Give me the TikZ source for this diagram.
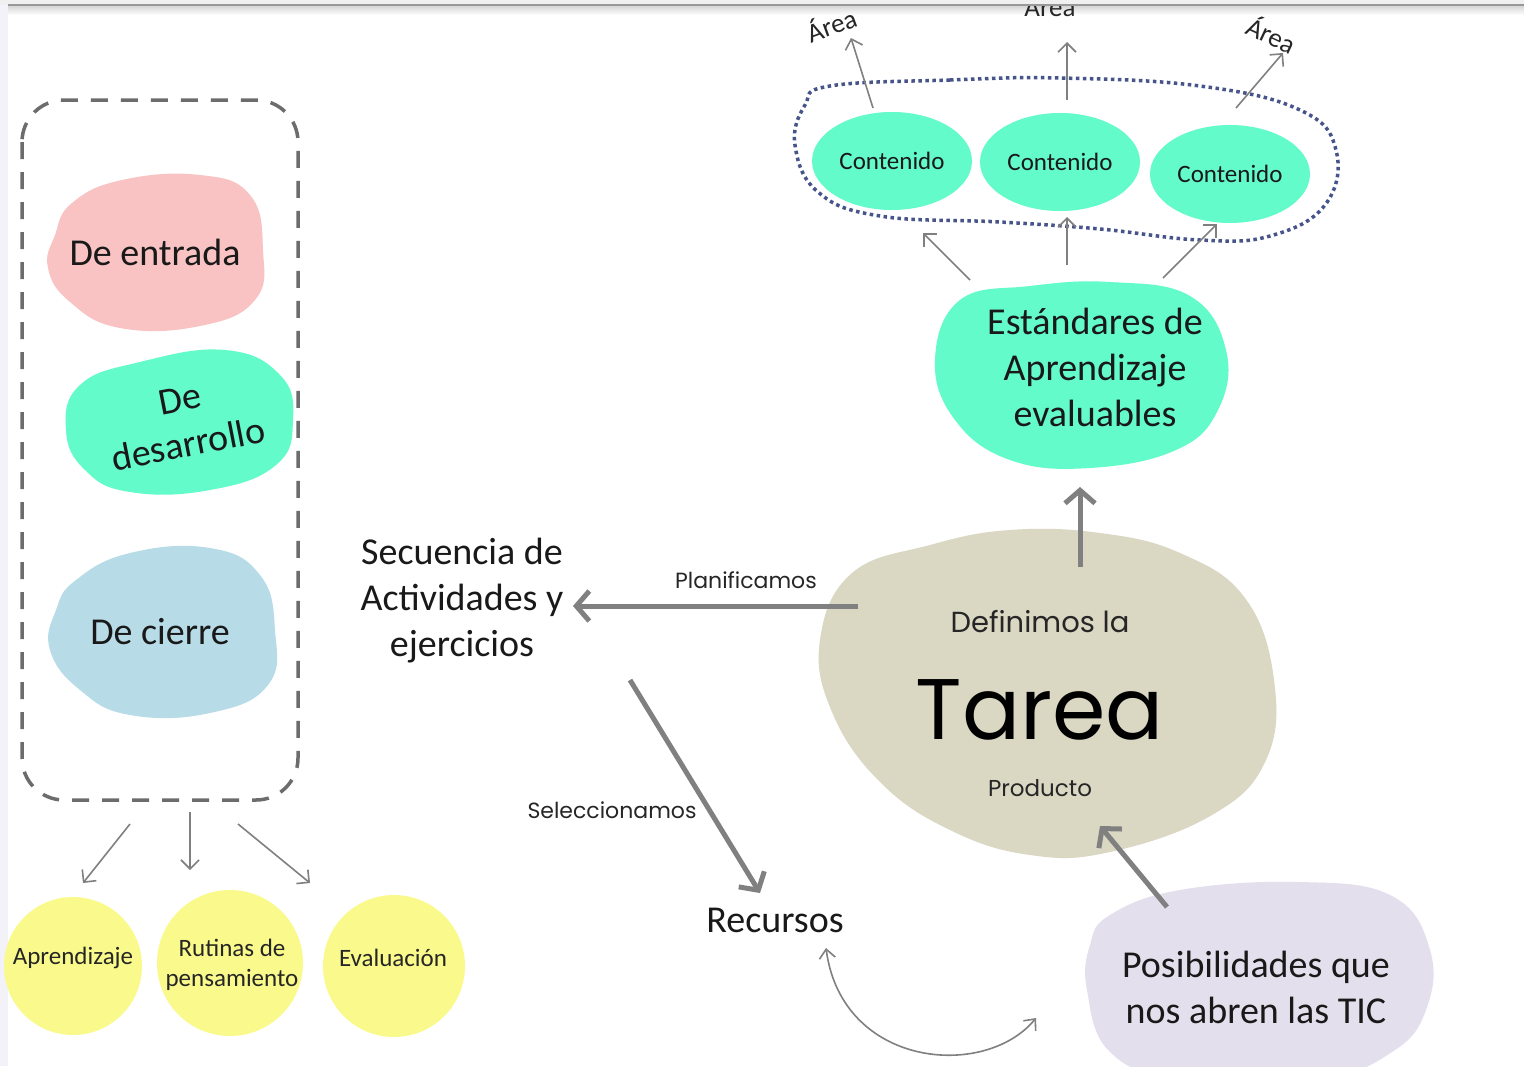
\documentclass[tikz,border=0pt]{standalone}
\usepackage{fontspec}
\setmainfont{Carlito}
\newfontfamily\hand{Poppins}
\usetikzlibrary{arrows.meta,shapes.geometric}
\definecolor{tealA}{HTML}{63FBC9}
\definecolor{pinkA}{HTML}{F9C3C3}
\definecolor{blueA}{HTML}{B7DCE7}
\definecolor{yelA}{HTML}{FAFA8C}
\definecolor{beigeA}{HTML}{DAD7C3}
\definecolor{lavA}{HTML}{E4DFEC}
\definecolor{arrowgray}{HTML}{808080}
\definecolor{dotblue}{HTML}{46548A}
\definecolor{stripA}{HTML}{F3F2F8}
\tikzset{
  thinarr/.style={draw=arrowgray, line width=1.6pt, -{Straight Barb[length=9pt,width=18pt]}},
  thickarr/.style={draw=arrowgray, line width=5pt, -{Straight Barb[length=13pt,width=30pt]}},
  bigtxt/.style={font=\fontsize{38}{46}\selectfont, align=center, text=black!90},
  midtxt/.style={font=\fontsize{25}{30}\selectfont, align=center, text=black!85},
  handtxt/.style={font=\hand\fontsize{22}{26}\selectfont, text=black!85},
  areatxt/.style={font=\fontsize{27}{30}\selectfont, text=black!85},
  yelcirc/.style={circle, fill=yelA, minimum size=138pt, inner sep=0pt},
  contell/.style={ellipse, fill=tealA, minimum width=160pt, minimum height=98pt, inner sep=0pt, midtxt, text=black!90},
}
\begin{document}
\begin{tikzpicture}[x=1pt,y=-1pt]
\useasboundingbox (0,0) rectangle (1524,1066);
\clip (0,0) rectangle (1524,1066);
\fill[white] (0,0) rectangle (1524,1066);
\fill[stripA] (0,0) rectangle (8,1066);
\shade[top color=gray!35, bottom color=white] (8,5) rectangle (1524,15);

% ---------- left column ----------
\draw[gray!85!black, line width=3.5pt, dash pattern=on 17pt off 13pt, rounded corners=42pt]
  (22,100) rectangle (298,800);
\fill[pinkA] plot[smooth cycle, tension=0.75] coordinates {(72,203) (122,180) (200,175) (250,195) (263,250) (255,300) (200,326) (120,328) (70,302) (48,268) (55,235)};
\node[bigtxt] (entrada) at (155,252) {De entrada};
\fill[tealA] plot[smooth cycle, tension=0.75] coordinates {(80,385) (140,362) (225,350) (280,375) (293,420) (276,465) (210,490) (130,492) (85,470) (66,430)};
\node[bigtxt, rotate=11] (desarrollo) at (184,422) {De\\desarrollo};
\fill[blueA] plot[smooth cycle, tension=0.75] coordinates {(76,580) (130,553) (210,548) (260,575) (275,630) (268,685) (210,713) (130,715) (80,690) (50,650) (56,610)};
\node[bigtxt] (cierre) at (160,632) {De cierre};

\coordinate (l1s) at (130,824); \coordinate (l1e) at (83,883);
\coordinate (l2s) at (190,812); \coordinate (l2e) at (190,870);
\coordinate (l3s) at (238,824); \coordinate (l3e) at (310,883);
\draw[thinarr] (l1s) -- (l1e);
\draw[thinarr] (l2s) -- (l2e);
\draw[thinarr] (l3s) -- (l3e);

\node[yelcirc] (apr) at (73,966) {};
\node[yelcirc, minimum size=146pt] (rut) at (230,963) {};
\node[yelcirc, minimum size=142pt] (eva) at (394,966) {};
\node[midtxt] (aprt) at (73,958) {Aprendizaje};
\node[midtxt] (rutt) at (232,965) {Rutinas de\\pensamiento};
\node[midtxt] (evat) at (393,958) {Evaluación};

% ---------- middle ----------
\node[bigtxt] (sec) at (462,601) {Secuencia de\\Actividades y\\ejercicios};
\node[bigtxt] (rec) at (775,920) {Recursos};

% ---------- Tarea blob ----------
\fill[beigeA] plot[smooth cycle, tension=0.7] coordinates {(852,573) (930,545) (1010,530) (1100,533) (1180,553) (1245,598) (1274,680) (1266,760) (1212,815) (1110,852) (1030,855) (950,830) (880,782) (832,712) (820,640)};
\node[handtxt, font=\hand\fontsize{29}{32}\selectfont] (def) at (1040,622) {Definimos la};
\node[handtxt, font=\hand\fontsize{86}{90}\selectfont, text=black] (tarea) at (1040,710) {Tarea};
\node[handtxt, font=\hand\fontsize{23}{26}\selectfont] (prod) at (1040,788) {Producto};

\coordinate (p1s) at (858,606); \coordinate (p1e) at (573,606);
\draw[thickarr] (p1s) -- (p1e);
\node[handtxt] (plan) at (746,580) {Planificamos};
\coordinate (s1s) at (630,680); \coordinate (s1e) at (760,893);
\draw[thickarr] (s1s) -- (s1e);
\node[handtxt] (sel) at (612,810) {Seleccionamos};

% ---------- Posibilidades ----------
\fill[lavA] plot[smooth cycle, tension=0.7] coordinates {(1110,915) (1180,890) (1300,882) (1392,896) (1430,950) (1426,1010) (1392,1052) (1320,1078) (1180,1078) (1110,1052) (1087,990) (1090,945)};
\node[bigtxt] (pos) at (1256,987) {Posibilidades que\\nos abren las TIC};
\coordinate (t1s) at (1167,907); \coordinate (t1e) at (1100,826);
\draw[thickarr] (t1s) -- (t1e);
\coordinate (c1s) at (826,948); \coordinate (c1e) at (1036,1018);
\draw[draw=arrowgray, line width=1.6pt, {Straight Barb[length=9pt,width=16pt]}-{Straight Barb[length=9pt,width=16pt]}]
  (c1s) .. controls (842,1068) and (985,1080) .. (c1e);

% ---------- Estándares ----------
\fill[tealA] plot[smooth cycle, tension=0.7] coordinates {(960,300) (1030,286) (1110,282) (1190,296) (1226,350) (1218,410) (1176,450) (1090,468) (1010,460) (955,420) (935,360)};
\node[bigtxt] (est) at (1095,367) {Estándares de\\Aprendizaje\\evaluables};
\coordinate (u1s) at (1080,567); \coordinate (u1e) at (1080,487);
\draw[thickarr] (u1s) -- (u1e);

% ---------- Contenidos ----------
\draw[dotblue, line width=3.5pt, dash pattern=on 3.5pt off 3.5pt]
  plot[smooth cycle, tension=0.7] coordinates {(830,86) (950,80) (1060,78) (1200,86) (1300,110) (1336,150) (1325,205) (1270,236) (1200,240) (1100,229) (1000,222) (880,216) (818,192) (795,145) (805,105)};
\node[contell] (c1) at (892,161) {Contenido};
\node[contell] (c2) at (1060,162) {Contenido};
\node[contell] (c3) at (1230,174) {Contenido};

\coordinate (e1s) at (970,280); \coordinate (e1e) at (923,233);
\coordinate (e2s) at (1067,265); \coordinate (e2e) at (1067,217);
\coordinate (e3s) at (1163,278); \coordinate (e3e) at (1217,224);
\draw[thinarr] (e1s) -- (e1e);
\draw[thinarr] (e2s) -- (e2e);
\draw[thinarr] (e3s) -- (e3e);

\coordinate (a1s) at (873,108); \coordinate (a1e) at (851,38);
\coordinate (a2s) at (1067,100); \coordinate (a2e) at (1067,42);
\coordinate (a3s) at (1236,108); \coordinate (a3e) at (1283,53);
\draw[thinarr] (a1s) -- (a1e);
\draw[thinarr] (a2s) -- (a2e);
\draw[thinarr] (a3s) -- (a3e);
\node[areatxt, rotate=20] (ar1) at (831,24) {Área};
\node[areatxt, anchor=base] (ar2) at (1050,16) {Área};
\node[areatxt, rotate=-25] (ar3) at (1272,34) {Área};

% ---------- screenshot top bar ----------
\fill[gray!12] (0,0) rectangle (1524,4.5);
\draw[gray!80, line width=1.5pt] (8,5) -- (1524,5);
\end{tikzpicture}
\end{document}
